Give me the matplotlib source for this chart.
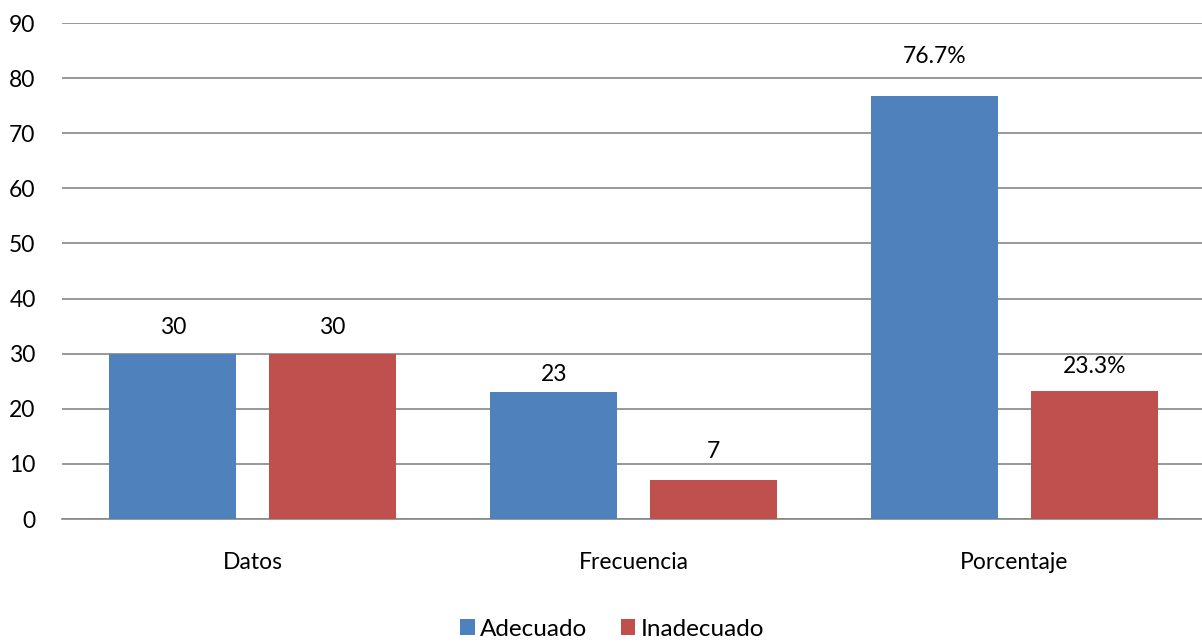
import matplotlib
matplotlib.use("Agg")
import matplotlib.pyplot as plt
import numpy as np

categories = ["Datos", "Frecuencia", "Porcentaje"]
adecuado = [30, 23, 76.7]
inadecuado = [30, 7, 23.3]
adecuado_labels = ["30", "23", "76.7%"]
inadecuado_labels = ["30", "7", "23.3%"]
series_names = ["Adecuado", "Inadecuado"]

# label gaps above bars (points), as placed in the original
adecuado_gaps = [11, 5, 21]
inadecuado_gaps = [11, 13, 10]

plt.rcParams['font.family'] = ['Lato', 'DejaVu Sans']

W, H = 1202, 643
fig = plt.figure(figsize=(W/100, H/100), dpi=100)
left, right, bottom, top = 62, 1202, 519, 23
ax = fig.add_axes([left/W, 1 - bottom/H, (right-left)/W, (bottom-top)/H])

x = np.arange(len(categories))
bw = 0.333
off = 0.209
blue = "#4F81BD"
red = "#C0504D"
b1 = ax.bar(x - off, adecuado, bw, color=blue, label=series_names[0], zorder=3)
b2 = ax.bar(x + off, inadecuado, bw, color=red, label=series_names[1], zorder=3)

fs = 16.5
for bars, labs, gaps in ((b1, adecuado_labels, adecuado_gaps),
                         (b2, inadecuado_labels, inadecuado_gaps)):
    for r, lab, g in zip(bars, labs, gaps):
        ax.annotate(lab, (r.get_x() + r.get_width()/2, r.get_height()),
                    xytext=(0, g), textcoords="offset points",
                    ha="center", va="bottom", fontsize=fs, color="black")

ax.set_ylim(0, 90)
ax.set_yticks(range(0, 91, 10))
ax.set_xlim(-0.5, -0.5 + 3 * (right - left) / 1143)
ax.set_xticks(x)
ax.set_xticklabels(categories, fontsize=fs)
ax.tick_params(axis="y", labelsize=fs, length=0, pad=19)
ax.tick_params(axis="x", length=0, pad=24)
ax.grid(axis="y", color="#868686", linewidth=1.2, zorder=0)
for s in ["left", "right", "top"]:
    ax.spines[s].set_visible(False)
ax.spines["bottom"].set_color("#868686")
ax.spines["bottom"].set_linewidth(1.2)

fig.legend(handles=[b1, b2], labels=series_names, loc="center",
           bbox_to_anchor=(612/W, 1 - 629/H), ncol=2, frameon=False,
           fontsize=17.5, handlelength=0.6, handleheight=0.6,
           handletextpad=0.2, columnspacing=1.4, borderaxespad=0)

fig.savefig("out.png", dpi=100)
